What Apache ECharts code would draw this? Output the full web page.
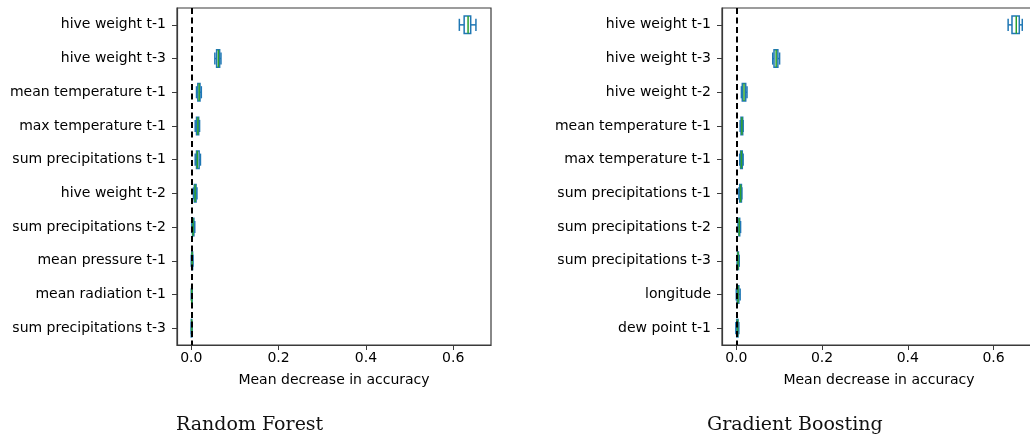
<!DOCTYPE html>
<html>
<head>
<meta charset="utf-8">
<script src="https://cdn.jsdelivr.net/npm/echarts@6/dist/echarts.min.js"></script>
<style>
  html, body { margin: 0; padding: 0; background: #fff; }
  #chart { width: 1030px; height: 442px; }
</style>
</head>
<body>
<div id="chart"></div>
<script>
// feature names, top to bottom
const rfLabels = [
  "hive weight t-1", "hive weight t-3", "mean temperature t-1", "max temperature t-1",
  "sum precipitations t-1", "hive weight t-2", "sum precipitations t-2",
  "mean pressure t-1", "mean radiation t-1", "sum precipitations t-3"
];
const gbLabels = [
  "hive weight t-1", "hive weight t-3", "hive weight t-2", "mean temperature t-1",
  "max temperature t-1", "sum precipitations t-1", "sum precipitations t-2",
  "sum precipitations t-3", "longitude", "dew point t-1"
];
// [min, q1, median, q3, max]
const rfStats = [
  [0.614, 0.625, 0.634, 0.640, 0.652],
  [0.054, 0.058, 0.062, 0.065, 0.068],
  [0.012, 0.015, 0.018, 0.020, 0.023],
  [0.009, 0.012, 0.015, 0.017, 0.019],
  [0.009, 0.012, 0.014, 0.018, 0.021],
  [0.005, 0.007, 0.009, 0.011, 0.013],
  [0.001, 0.003, 0.004, 0.006, 0.008],
  [0.000, 0.001, 0.002, 0.003, 0.004],
  [0.000, 0.001, 0.001, 0.002, 0.002],
  [0.000, 0.000, 0.001, 0.001, 0.002]
];
const gbStats = [
  [0.634, 0.643, 0.653, 0.660, 0.667],
  [0.085, 0.088, 0.093, 0.097, 0.101],
  [0.012, 0.014, 0.018, 0.022, 0.025],
  [0.009, 0.011, 0.013, 0.015, 0.016],
  [0.008, 0.010, 0.012, 0.014, 0.016],
  [0.006, 0.008, 0.010, 0.012, 0.013],
  [0.004, 0.006, 0.007, 0.008, 0.010],
  [0.002, 0.003, 0.004, 0.005, 0.007],
  [0.000, 0.002, 0.004, 0.006, 0.009],
  [-0.001, 0.001, 0.003, 0.004, 0.006]
];
const xTicks = [0, 0.2, 0.4, 0.6];

const BLUE = "#1f77b4";
const GREEN = "#2ca02c";
const FRAME = "#3a3a3a";
const FONT = "DejaVu Sans";

function renderBox(params, api) {
  const cat = api.value(0);
  const v = [1, 2, 3, 4, 5].map((i) => api.value(i));
  const band = api.size([0, 1])[1];
  const hb = band * 0.26;
  const hc = band * 0.18;
  const y = api.coord([0, cat])[1];
  const x = v.map((val) => api.coord([val, cat])[0]);
  const st = { stroke: BLUE, lineWidth: 1.5, fill: null };
  return {
    type: "group",
    children: [
      { type: "line", shape: { x1: x[0], y1: y, x2: x[1], y2: y }, style: st },
      { type: "line", shape: { x1: x[3], y1: y, x2: x[4], y2: y }, style: st },
      { type: "line", shape: { x1: x[0], y1: y - hc, x2: x[0], y2: y + hc }, style: st },
      { type: "line", shape: { x1: x[4], y1: y - hc, x2: x[4], y2: y + hc }, style: st },
      { type: "rect", shape: { x: x[1], y: y - hb, width: x[3] - x[1], height: 2 * hb }, style: st },
      { type: "line", shape: { x1: x[2], y1: y - hb, x2: x[2], y2: y + hb },
        style: { stroke: GREEN, lineWidth: 1.5 } }
    ]
  };
}

function xAxisOpt(idx, min, max) {
  return {
    type: "value", gridIndex: idx, min: min, max: max,
    splitLine: { show: false },
    axisLine: { show: true, onZero: false, lineStyle: { color: FRAME, width: 1.2 } },
    axisTick: { show: true, length: 5, customValues: xTicks, lineStyle: { color: FRAME } },
    axisLabel: {
      customValues: xTicks, margin: 6, color: "#000", fontSize: 14, fontFamily: FONT,
      formatter: (val) => val.toFixed(1)
    },
    name: "Mean decrease in accuracy", nameLocation: "middle", nameGap: 28,
    nameTextStyle: { color: "#000", fontSize: 14, fontFamily: FONT }
  };
}

function yAxisOpt(idx, labels) {
  return {
    type: "category", gridIndex: idx, data: labels, inverse: true,
    axisLine: { show: true, onZero: false, lineStyle: { color: FRAME, width: 1.2 } },
    axisTick: { show: true, alignWithLabel: true, length: 5, lineStyle: { color: FRAME } },
    axisLabel: { margin: 11, color: "#000", fontSize: 14, fontFamily: FONT, padding: [3, 0, 0, 0] }
  };
}

function boxSeries(idx, stats) {
  return {
    type: "custom", xAxisIndex: idx, yAxisIndex: idx,
    renderItem: renderBox,
    encode: { x: [1, 2, 3, 4, 5], y: 0 },
    data: stats.map((s, i) => [i].concat(s)),
    markLine: {
      silent: true, symbol: "none", z: 10, label: { show: false },
      lineStyle: { color: "#000", width: 2, type: [6, 3.5] },
      data: [{ xAxis: 0 }]
    }
  };
}

const myChart = echarts.init(document.getElementById("chart"));
const option = {
  animation: false,
  backgroundColor: "#fff",
  title: [
    { text: "Random Forest", left: 171, top: 411,
      textStyle: { fontFamily: "DejaVu Serif", fontSize: 19, fontWeight: "normal", color: "#111" } },
    { text: "Gradient Boosting", left: 702, top: 411,
      textStyle: { fontFamily: "DejaVu Serif", fontSize: 19, fontWeight: "normal", color: "#111" } }
  ],
  grid: [
    { left: 177, top: 8, width: 314, height: 337, show: true, borderColor: FRAME, borderWidth: 1.2,
      outerBoundsMode: "none" },
    { left: 722, top: 8, width: 314, height: 337, show: true, borderColor: FRAME, borderWidth: 1.2,
      outerBoundsMode: "none" }
  ],
  xAxis: [xAxisOpt(0, -0.0327, 0.6865), xAxisOpt(1, -0.0333, 0.699)],
  yAxis: [yAxisOpt(0, rfLabels), yAxisOpt(1, gbLabels)],
  series: [boxSeries(0, rfStats), boxSeries(1, gbStats)]
};
myChart.setOption(option);
</script>
</body>
</html>
